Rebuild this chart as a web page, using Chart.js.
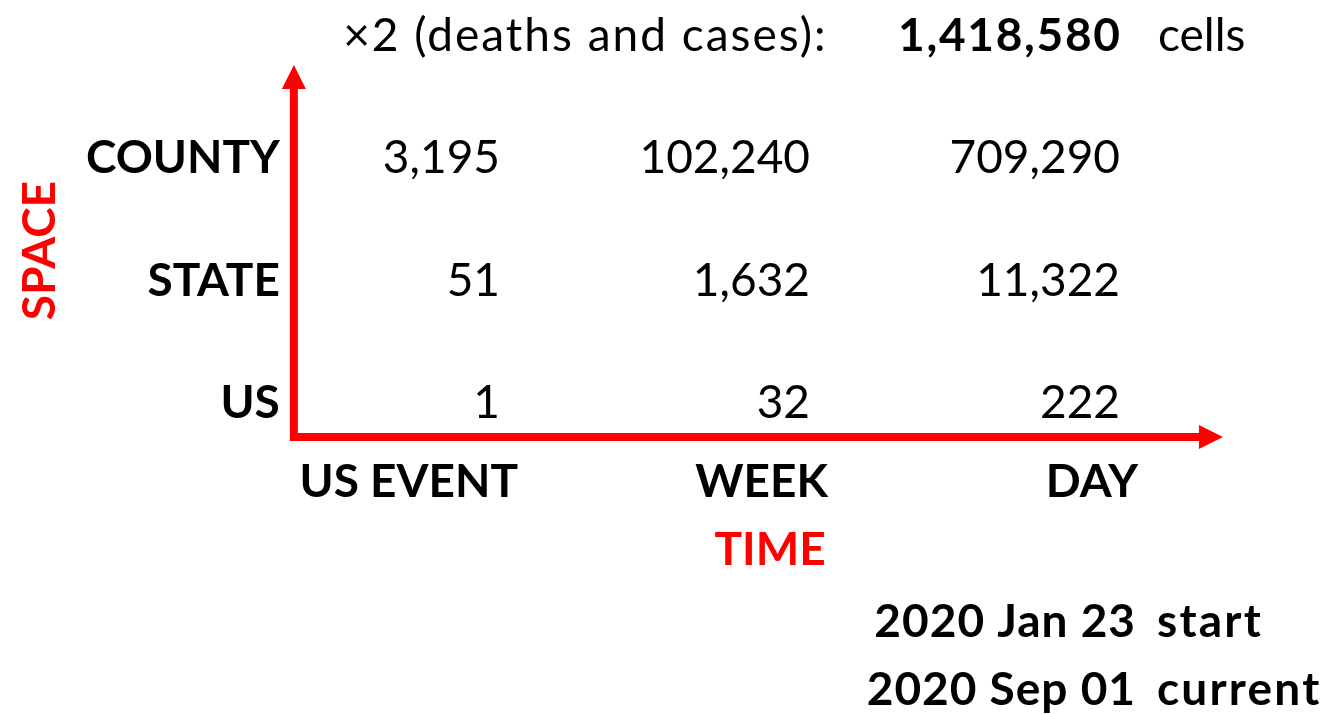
<!DOCTYPE html>
<html><head><meta charset="utf-8">
<script src="https://cdn.jsdelivr.net/npm/chart.js@4/dist/chart.umd.min.js"></script>
<style>html,body{margin:0;padding:0;background:#fff;overflow:hidden}canvas{display:block}</style>
</head><body>
<canvas id="c" width="1327" height="714"></canvas>
<script>
// ---- data ----
const timeLabels = ['US EVENT', 'WEEK', 'DAY'];
const spaceLabels = ['US', 'STATE', 'COUNTY'];
const usCells = [1, 32, 222];
const stateCells = [51, 1632, 11322];
const countyCells = [3195, 102240, 709290];
const multiplierLabel = '×2 (deaths and cases):';
const totalCells = 1418580;
const totalUnit = 'cells';
const dateLabels = ['2020 Jan 23', '2020 Sep 01'];
const dateRoles = ['start', 'current'];
const timeAxisTitle = 'TIME';
const spaceAxisTitle = 'SPACE';

const rows = [usCells, stateCells, countyCells];
const points = [];
rows.forEach((row, r) => row.forEach((v, c) => points.push({x: c, y: r, v: v})));

const FONT = 'Lato, "Open Sans", sans-serif';
const RED = '#ff0000';
const fmt = n => n.toLocaleString('en-US');

function spaced(ctx, text, x, y, sp) {
  // draw text with letter spacing, honouring current textAlign (left/right)
  if ('letterSpacing' in ctx) {
    ctx.letterSpacing = sp + 'px';
    const a = ctx.textAlign;
    ctx.fillText(text, a === 'right' ? x + sp : x, y);
    ctx.letterSpacing = '0px';
  } else {
    ctx.fillText(text, x, y);
  }
}

const diagramPlugin = {
  id: 'diagram',
  afterDatasetsDraw(chart) {
    const ctx = chart.ctx;
    const xs = chart.scales.x, ys = chart.scales.y;
    const px = v => xs.getPixelForValue(v);
    const py = v => ys.getPixelForValue(v);
    ctx.save();

    // axes arrows
    const ox = px(-0.665), oy = py(-0.155);
    const topY = py(2.882), rightX = px(2.332);
    ctx.strokeStyle = RED; ctx.fillStyle = RED; ctx.lineWidth = 8; ctx.lineCap = 'butt'; ctx.lineJoin = 'miter';
    ctx.beginPath();
    ctx.moveTo(ox, topY + 22);
    ctx.lineTo(ox, oy);
    ctx.lineTo(rightX - 22, oy);
    ctx.stroke();
    ctx.beginPath();
    ctx.moveTo(ox, topY); ctx.lineTo(ox - 12, topY + 24); ctx.lineTo(ox + 12, topY + 24); ctx.closePath(); ctx.fill();
    ctx.beginPath();
    ctx.moveTo(rightX, oy); ctx.lineTo(rightX - 24, oy - 12); ctx.lineTo(rightX - 24, oy + 12); ctx.closePath(); ctx.fill();

    // cell values
    ctx.textBaseline = 'alphabetic';
    ctx.fillStyle = '#000';
    ctx.font = '46px ' + FONT;
    ctx.textAlign = 'right';
    const meta = chart.getDatasetMeta(0);
    meta.data.forEach((el, i) => {
      ctx.fillText(fmt(points[i].v), el.x, el.y);
    });

    // row labels (space)
    ctx.font = 'bold 46px ' + FONT;
    spaceLabels.forEach((lab, r) => ctx.fillText(lab, ox - 14, py(r)));
    // column labels (time)
    timeLabels.forEach((lab, c) => ctx.fillText(lab, px(c) + 18, py(-0.645)));

    // axis titles
    ctx.fillStyle = RED;
    ctx.textAlign = 'center';
    ctx.fillText(timeAxisTitle, px(0.871), py(-1.2));
    ctx.save();
    ctx.translate(px(-1.435), py(1.367));
    ctx.rotate(-Math.PI / 2);
    ctx.fillText(spaceAxisTitle, 0, 0);
    ctx.restore();

    // header line
    ctx.fillStyle = '#000';
    ctx.textAlign = 'right';
    ctx.font = '46px ' + FONT;
    spaced(ctx, multiplierLabel, px(1.05), py(3.0), 2);
    ctx.font = 'bold 46px ' + FONT;
    spaced(ctx, fmt(totalCells), px(2), py(3.0), 1.7);
    ctx.textAlign = 'left';
    ctx.font = '46px ' + FONT;
    spaced(ctx, totalUnit, px(2) + 38, py(3.0), 0);

    // dates
    ctx.font = 'bold 46px ' + FONT;
    const dateY = [-1.788, -2.343];
    dateLabels.forEach((d, i) => {
      ctx.textAlign = 'right';
      spaced(ctx, d, px(2) + 15, py(dateY[i]), 1);
      ctx.textAlign = 'left';
      spaced(ctx, dateRoles[i], px(2) + 37, py(dateY[i]), 2.2);
    });
    ctx.restore();
  }
};

new Chart(document.getElementById('c'), {
  type: 'scatter',
  data: {
    datasets: [{
      label: 'cells',
      data: points,
      pointRadius: 0,
      pointHoverRadius: 0,
      showLine: false
    }]
  },
  options: {
    responsive: false,
    animation: false,
    events: [],
    layout: {padding: 0},
    plugins: {legend: {display: false}, tooltip: {enabled: false}},
    scales: {
      x: {type: 'linear', display: false, min: -500 / 310, max: -500 / 310 + 1327 / 310},
      y: {type: 'linear', display: false, min: 418 / 122.5 - 714 / 122.5, max: 418 / 122.5}
    }
  },
  plugins: [diagramPlugin]
});
</script>
</body></html>
